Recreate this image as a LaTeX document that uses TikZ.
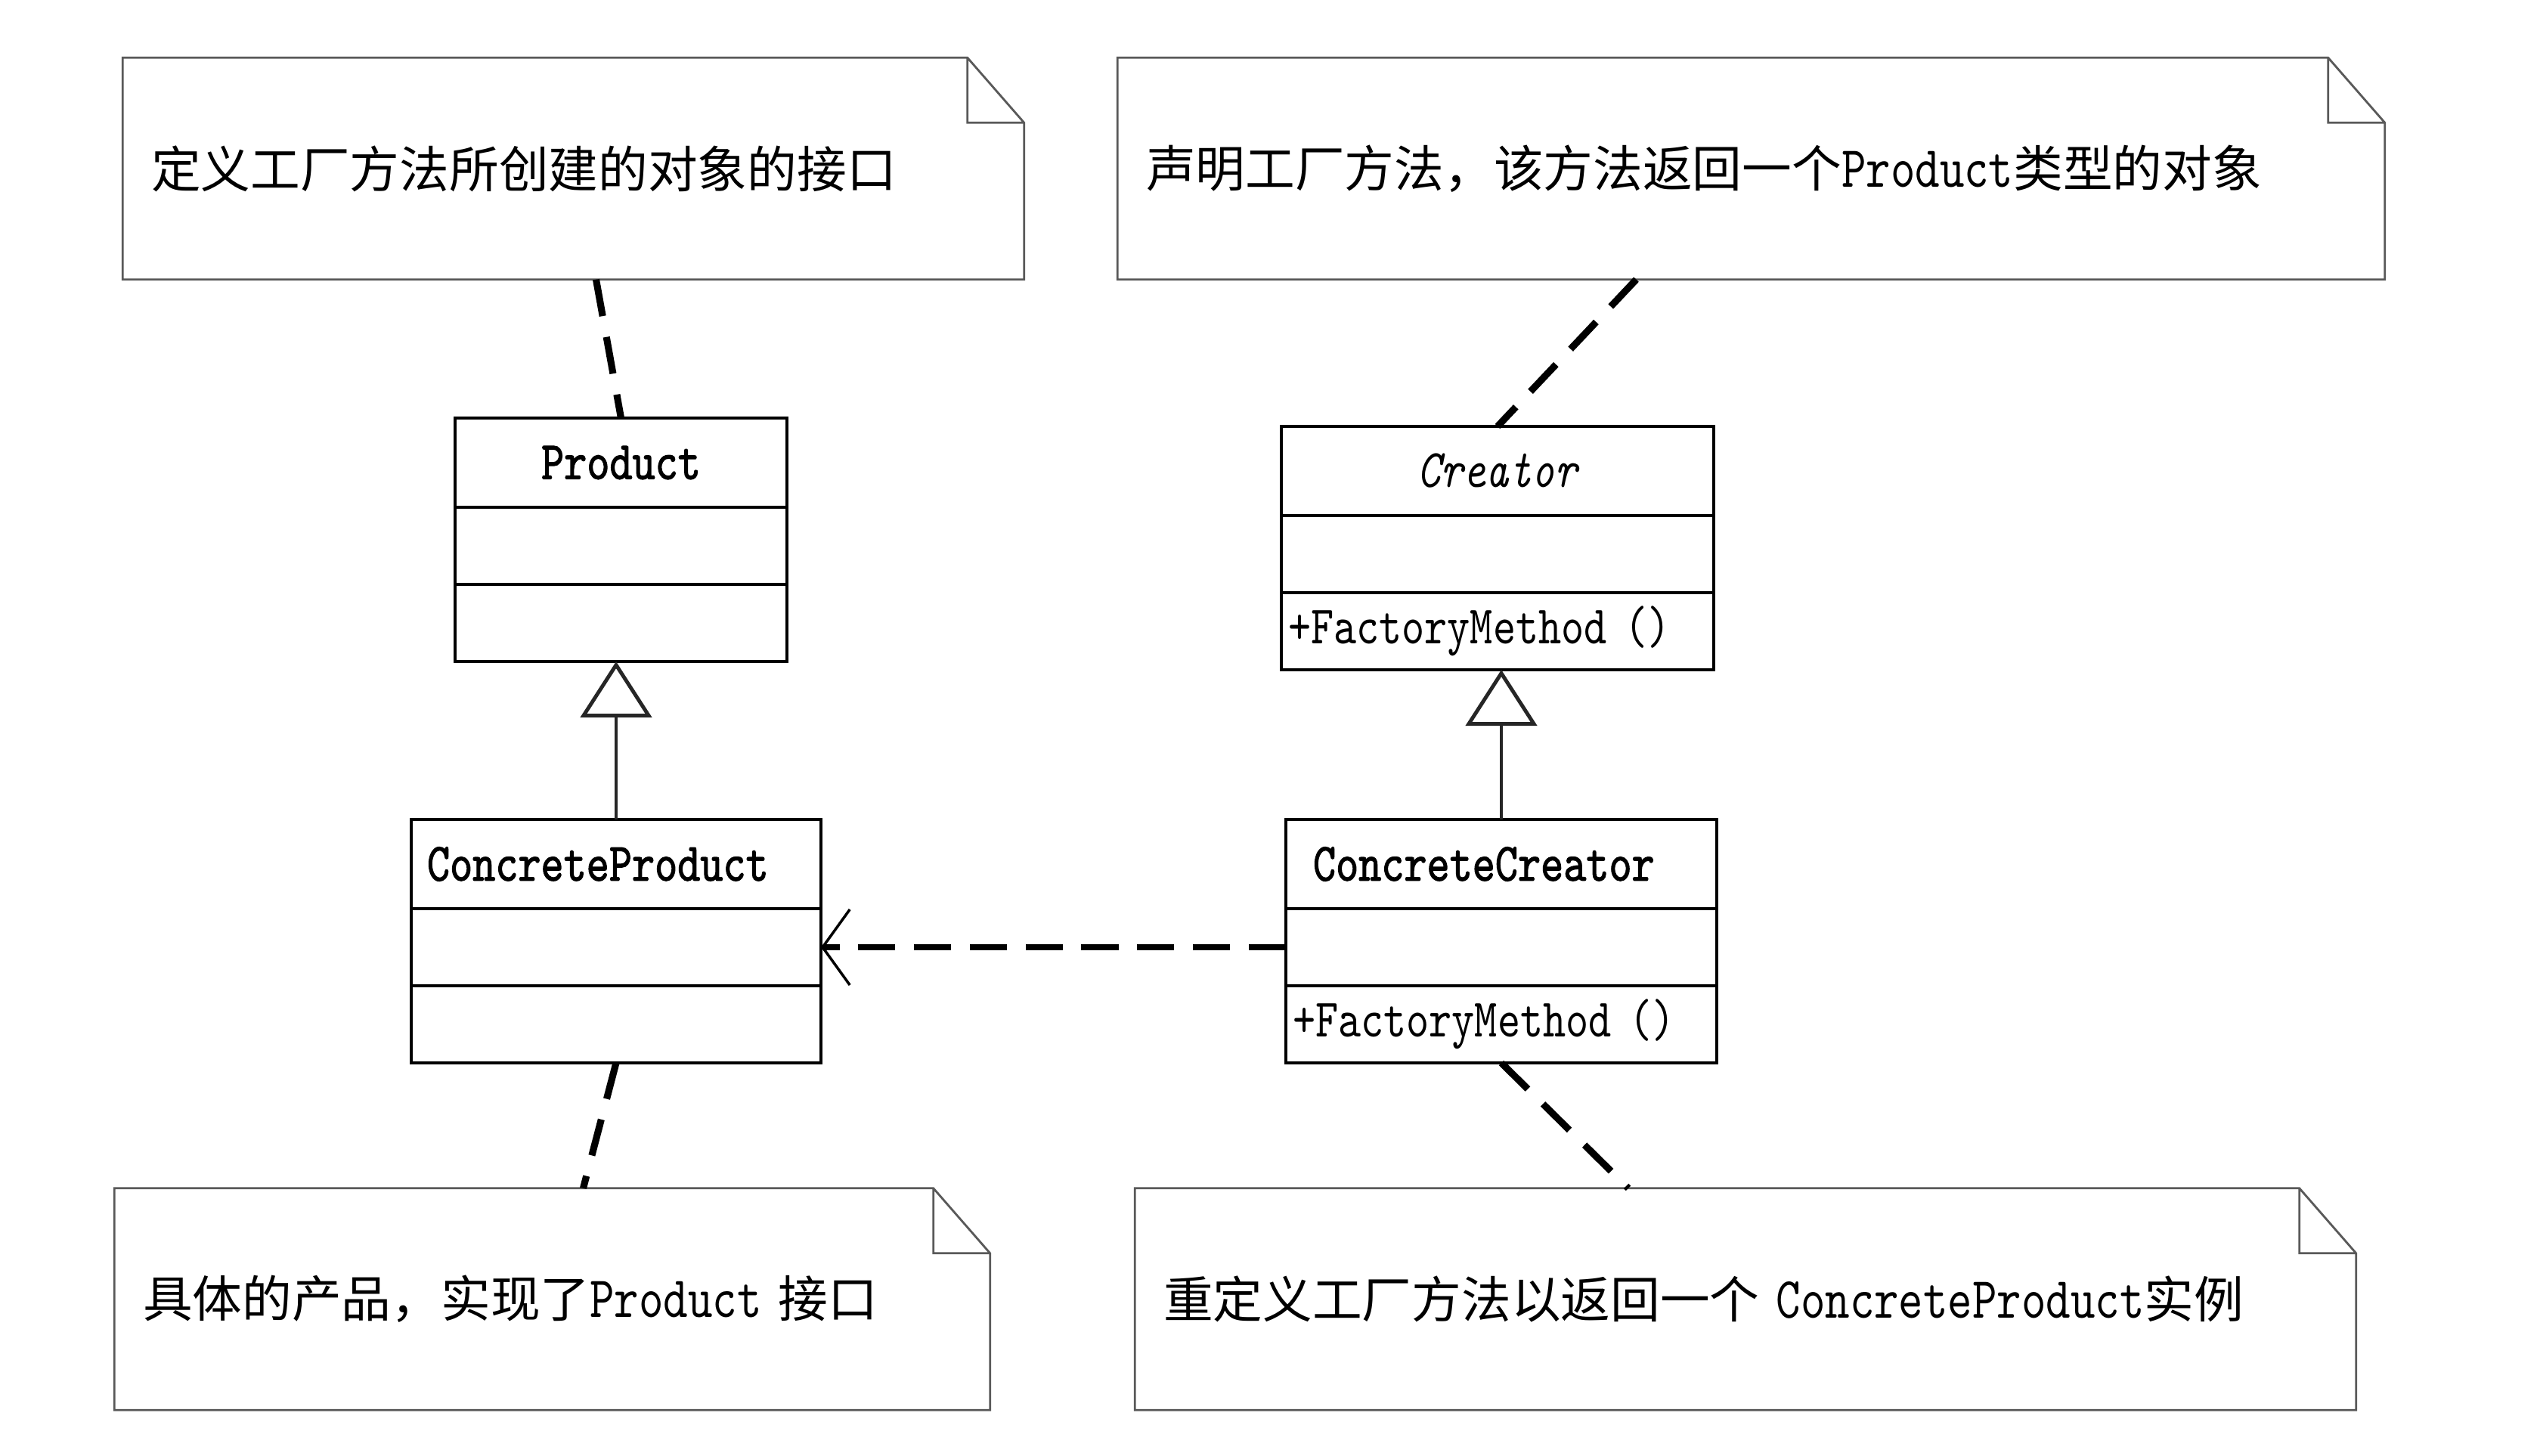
\documentclass[tikz,border=0pt]{standalone}
\usepackage{fontspec}
\usepackage{tikz}
\usetikzlibrary{positioning,arrows.meta}
\newfontfamily\cjk{Noto Sans CJK SC}
\newfontfamily\umlfont{lmmono10-regular.otf}[FakeStretch=0.8,ItalicFont=lmmono10-italic.otf,BoldFont=lmmono10-regular.otf,BoldFeatures={FakeBold=1.5}]
\newcommand{\lat}[1]{{\umlfont\fontsize{22pt}{26pt}\selectfont #1}}

\begin{document}
\begin{tikzpicture}[>=Stealth]
    \tikzstyle{note}=[rectangle,align=left,minimum height=2.92cm,inner xsep=0.37cm,font=\cjk\fontsize{18.7pt}{22pt}\selectfont]
    \tikzstyle{notefr}=[draw=black!65,line width=0.8pt,line join=miter]
    \tikzstyle{cls}=[rectangle,draw,line width=1.4pt,outer sep=0pt,inner sep=0pt,font=\umlfont\fontsize{20.4pt}{24pt}\selectfont]
    \tikzstyle{title}=[cls,minimum height=1.18cm]
    \tikzstyle{part}=[cls,minimum height=1.02cm]
    \tikzstyle{gen}=[line width=0.9pt,black!85,-{Triangle[open,length=0.74cm,width=0.94cm,line width=1.4pt]}]
    \tikzstyle{dep}=[line width=2.4pt,dash pattern=on 14pt off 7pt,-{Straight Barb[length=0.36cm,width=1.0cm,line width=1pt]}]
    \tikzstyle{link}=[line width=2.6pt,dash pattern=on 14pt off 8pt]
    \useasboundingbox (0,0) rectangle (33.6,-19.26);

    % notes
    \node[note,text width=11.17cm] (n1) at (7.585,-2.23) {定义工厂方法所创建的对象的接口};
    \node[note,text width=16.01cm] (n2) at (23.165,-2.23) {声明工厂方法，该方法返回一个\lat{Product}类型的对象};
    \node[note,text width=10.83cm] (n3) at (7.305,-17.185) {具体的产品，实现了\lat{Product} 接口};
    \node[note,text width=15.40cm] (n4) at (23.09,-17.185) {重定义工厂方法以返回一个 \lat{ConcreteProduct}实例};
    \foreach \n in {n1,n2,n3,n4}
        \draw[notefr] (\n.south west) -- (\n.north west) -- ([xshift=-0.75cm]\n.north east)
            -- ([yshift=-0.86cm]\n.north east) -- (\n.south east) -- cycle
            ([xshift=-0.75cm]\n.north east) |- ([yshift=-0.86cm]\n.north east);

    % classes
    \node[title,minimum width=4.39cm] (product) at (8.215,-6.12) {\bfseries Product};
    \node[part,minimum width=4.39cm,below=0pt of product] (productattr) {};
    \node[part,minimum width=4.39cm,below=0pt of productattr] (productops) {};

    \node[title,minimum width=5.72cm] (creator) at (19.81,-6.23) {\itshape Creator};
    \node[part,minimum width=5.72cm,below=0pt of creator] (creatorattr) {};
    \node[part,minimum width=5.72cm,text width=5.54cm,inner xsep=0.09cm,align=left,below=0pt of creatorattr] (creatorops) {+FactoryMethod ()};

    \node[title,minimum width=5.42cm,text width=5.0cm,inner xsep=0.21cm,align=left] (cp) at (8.15,-11.43) {\bfseries ConcreteProduct};
    \node[part,minimum width=5.42cm,below=0pt of cp] (cpattr) {};
    \node[part,minimum width=5.42cm,below=0pt of cpattr] (cpops) {};

    \node[title,minimum width=5.70cm,text width=4.98cm,inner xsep=0.36cm,align=left] (cc) at (19.86,-11.43) {\bfseries ConcreteCreator};
    \node[part,minimum width=5.70cm,below=0pt of cc] (ccattr) {};
    \node[part,minimum width=5.70cm,text width=5.52cm,inner xsep=0.09cm,align=left,below=0pt of ccattr] (ccops) {+FactoryMethod ()};

    % relations
    \draw[gen] (cp.north) -- (cp.north |- productops.south);
    \draw[gen] (cc.north) -- (cc.north |- creatorops.south);
    \draw[dep] (ccattr.west) -- (cpattr.east);
    \draw[link] ([xshift=0.3cm]n1.south) -- (product.north);
    \draw[link] ([xshift=-1.52cm]n2.south) -- (creator.north);
    \draw[link] (cpops.south) -- ([xshift=0.41cm]n3.north);
    \draw[link] (ccops.south) -- ([xshift=-1.55cm]n4.north);
\end{tikzpicture}
\end{document}
